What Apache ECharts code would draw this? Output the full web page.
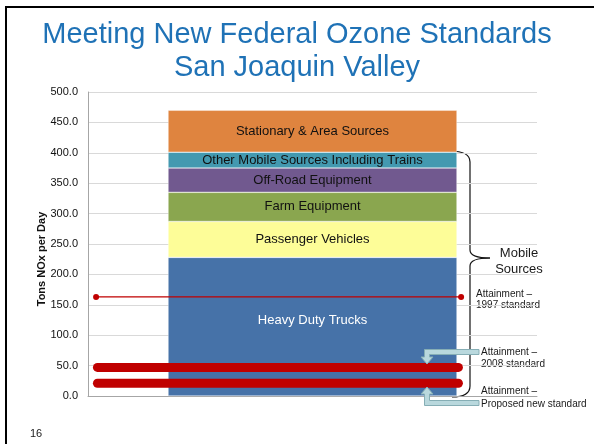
<!DOCTYPE html>
<html>
<head>
<meta charset="utf-8">
<script src="https://cdn.jsdelivr.net/npm/echarts@6/dist/echarts.min.js"></script>
<style>
  html, body { margin: 0; padding: 0; background: #fff; }
  #chart { width: 594px; height: 444px; }
</style>
</head>
<body>
<div id="chart"></div>
<script>
// stacked segments, bottom to top (tons NOx per day)
var sources = ["Heavy Duty Trucks", "Passenger Vehicles", "Farm Equipment", "Off-Road Equipment", "Other Mobile Sources Including Trains", "Stationary & Area Sources"];
var tons = [228, 59, 48, 40, 26, 69];
var colors = ["#4672a8", "#fdfd98", "#8aa64f", "#71598f", "#4399b0", "#df843f"];

// attainment levels
var level1997 = 163;
var level2008 = 47;
var levelProposed = 21;

var yTicks = [0, 50, 100, 150, 200, 250, 300, 350, 400, 450, 500];

var myChart = echarts.init(document.getElementById("chart"));

// horizontal extent of the attainment lines on a hidden 0..1 axis
var thickSpan = [0.021, 0.825];
var thinSpan = [0.018, 0.831];

var font = "Liberation Sans, Arial";

var barSeries = sources.map(function (name, i) {
  return {
    name: name,
    type: "bar",
    stack: "total",
    barWidth: 289,
    data: [tons[i]],
    itemStyle: { color: colors[i], borderColor: "rgba(255,255,255,0.6)", borderWidth: 0.6 },
    label: {
      show: true,
      position: "inside",
      formatter: name,
      color: i === 0 ? "#fff" : "#111",
      fontSize: 13,
      fontFamily: font,
      offset: i === 0 ? [0, -6] : [0, 0]
    }
  };
});

function levelLine(v, span, width, thin) {
  return {
    type: "line",
    xAxisIndex: 1,
    data: [[span[0], v], [span[1], v]],
    symbol: thin ? "circle" : "none",
    symbolSize: 6,
    itemStyle: { color: "#c00000" },
    lineStyle: { color: "#c00000", width: width, cap: "round" },
    z: 5,
    silent: true
  };
}

var series = barSeries.concat([
  levelLine(level1997, thinSpan, 1.3, true),
  levelLine(level2008, thickSpan, 9, false),
  levelLine(levelProposed, thickSpan, 9, false)
]);

function note(x, y, text, size, lh, align) {
  return {
    type: "text", x: x, y: y,
    style: { text: text, fontSize: size, lineHeight: lh, fontFamily: font, fill: "#1a1a1a", textAlign: align || "left" }
  };
}
var arrowStyle = { fill: "#b9d8dd", stroke: "#86aeb5", lineWidth: 1 };
var braceStyle = { stroke: "#111", lineWidth: 1.2, fill: null };

myChart.setOption({
  animation: false,
  title: {
    text: "Meeting New Federal Ozone Standards\nSan Joaquin Valley",
    left: "center",
    top: 13,
    textStyle: {
      color: "#1f72b6",
      fontSize: 29,
      fontWeight: "normal",
      fontFamily: font,
      lineHeight: 33
    }
  },
  grid: { left: 88, right: 57, top: 92, bottom: 48 },
  xAxis: [
    {
      type: "category",
      data: [""],
      axisLine: { lineStyle: { color: "#a6a6a6" } },
      axisTick: { show: false },
      axisLabel: { show: false }
    },
    { type: "value", min: 0, max: 1, show: false }
  ],
  yAxis: {
    type: "value",
    min: yTicks[0],
    max: yTicks[yTicks.length - 1],
    interval: 50,
    name: "Tons NOx per Day",
    nameLocation: "middle",
    nameGap: 41,
    nameMoveOverlap: false,
    nameTextStyle: { fontSize: 11, fontWeight: "bold", color: "#111", fontFamily: font, padding: [0, 30, 0, 0] },
    axisLine: { show: true, lineStyle: { color: "#a6a6a6" } },
    axisTick: { show: false },
    axisLabel: {
      formatter: function (v) { return v.toFixed(1); },
      color: "#111",
      fontSize: 11,
      fontFamily: font,
      margin: 10
    },
    splitLine: { lineStyle: { color: "#d9d9d9" } }
  },
  series: series,
  graphic: [
    // slide frame
    { type: "line", shape: { x1: 5, y1: 7, x2: 594, y2: 7 }, style: { stroke: "#000", lineWidth: 2 } },
    { type: "line", shape: { x1: 6, y1: 6, x2: 6, y2: 444 }, style: { stroke: "#000", lineWidth: 2 } },
    note(30, 427, "16", 11, 13),
    // brace for mobile sources
    { type: "bezierCurve", shape: { x1: 450, y1: 151, cpx1: 470, cpy1: 151, x2: 470, y2: 162 }, style: braceStyle },
    { type: "line", shape: { x1: 470, y1: 162, x2: 470, y2: 250 }, style: braceStyle },
    { type: "bezierCurve", shape: { x1: 470, y1: 250, cpx1: 470, cpy1: 258, x2: 490, y2: 258 }, style: braceStyle },
    { type: "bezierCurve", shape: { x1: 490, y1: 258, cpx1: 470, cpy1: 258, x2: 470, y2: 266 }, style: braceStyle },
    { type: "line", shape: { x1: 470, y1: 266, x2: 470, y2: 386 }, style: braceStyle },
    { type: "bezierCurve", shape: { x1: 470, y1: 386, cpx1: 470, cpy1: 397, x2: 452, y2: 397 }, style: braceStyle },
    note(519, 245, "Mobile\nSources", 13, 16, "center"),
    note(476, 289, "Attainment \u2013\n1997 standard", 10, 11),
    note(481, 346, "Attainment \u2013\n2008 standard", 10, 12),
    note(481, 385, "Attainment \u2013\nProposed new standard", 10, 13),
    // callout arrows
    {
      type: "polygon",
      shape: { points: [[479, 349.5], [424.5, 349.5], [424.5, 357], [421, 357], [427, 364], [433, 357], [429.5, 357], [429.5, 354.5], [479, 354.5]] },
      style: arrowStyle, z: 10
    },
    {
      type: "polygon",
      shape: { points: [[479, 405.5], [424.5, 405.5], [424.5, 394], [421, 394], [427, 387], [433, 394], [429.5, 394], [429.5, 400.5], [479, 400.5]] },
      style: arrowStyle, z: 10
    }
  ]
});
</script>
</body>
</html>
